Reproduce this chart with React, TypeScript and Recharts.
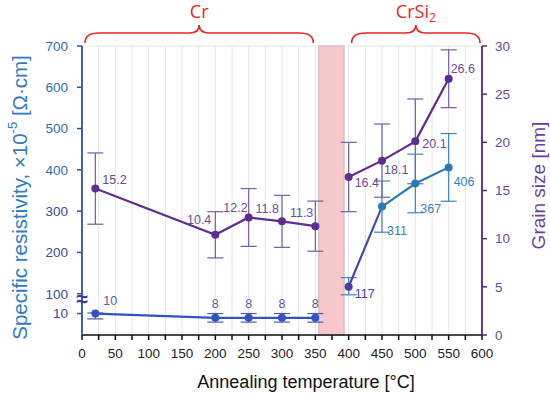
import React from 'react';
import {
  ComposedChart,
  Line,
  XAxis,
  YAxis,
  CartesianGrid,
  ErrorBar,
  LabelList,
  ReferenceArea,
  ReferenceDot,
  Label,
} from 'recharts';

// ---------------- data ----------------
const temperatures = [20, 200, 250, 300, 350, 400, 450, 500, 550];
const phases = ['Cr', 'Cr', 'Cr', 'Cr', 'Cr', 'CrSi2', 'CrSi2', 'CrSi2', 'CrSi2'];
const resistivity = [10, 8, 8, 8, 8, 117, 311, 367, 406];
const resistivityErr = [2.5, 2, 2, 2, 2, 22, 62, 71, 82];
const grainSize = [15.2, 10.4, 12.2, 11.8, 11.3, 16.4, 18.1, 20.1, 26.6];
const grainErr = [3.7, 2.4, 3.0, 2.7, 2.6, 3.6, 3.8, 4.4, 3.0];

const xTicks = Array.from({ length: 25 }, (_, i) => i * 25);
const resistivityTicks = [10, 100, 200, 300, 400, 500, 600, 700];
const grainTicks = [0, 5, 10, 15, 20, 25, 30];
const phaseRanges = [
  { label: 'Cr', from: 0, to: 350 },
  { label: 'CrSi2', from: 400, to: 600 },
];
const transitionBand = [355, 393];
const axisBreakAt = 80;

// broken resistivity axis: 0-10 and 10-100 compressed, linear above 100
const brokenScale = (v: number) =>
  v >= 100 ? v : v <= 10 ? v * 5.2 : 52 + ((v - 10) * 48) / 90;

const rows = temperatures.map((t, i) => {
  const isCr = phases[i] === 'Cr';
  const r = resistivity[i];
  const e = resistivityErr[i];
  const rt = brokenScale(r);
  const rErr = [rt - brokenScale(r - e), brokenScale(r + e) - rt];
  return {
    t,
    resCr: isCr ? rt : null,
    resSi: isCr ? null : rt,
    resRawCr: isCr ? r : null,
    resRawSi: isCr ? null : r,
    resErrCr: isCr ? rErr : null,
    resErrSi: isCr ? null : rErr,
    grainCr: isCr ? grainSize[i] : null,
    grainSi: isCr ? null : grainSize[i],
    grainErrCr: isCr ? grainErr[i] : null,
    grainErrSi: isCr ? null : grainErr[i],
  };
});

// ---------------- styling ----------------
const FONT = '"Liberation Sans", Arial, sans-serif';
const PURPLE = '#5e2d91';
const PURPLE_TXT = '#6b4c9a';
const BLUE_CR = '#3353c4';
const BLUE_SI = '#2a7ab8';
const RED = '#e5262d';

const grainLabelPos: Record<number, [number, number, string]> = {
  20: [7, -5, 'start'],
  200: [-4, -11, 'end'],
  250: [-1, -5, 'end'],
  300: [-3, -8, 'end'],
  350: [-2, -9, 'end'],
  400: [6, 10, 'start'],
  450: [2, 13, 'start'],
  500: [7, 7, 'start'],
  550: [2, -6, 'start'],
};
const resLabelPos: Record<number, [number, number, string]> = {
  20: [8, -9, 'start'],
  200: [0, -10, 'middle'],
  250: [0, -10, 'middle'],
  300: [0, -10, 'middle'],
  350: [0, -10, 'middle'],
  400: [6, 11, 'start'],
  450: [5, 28, 'start'],
  500: [5, 30, 'start'],
  550: [5, 19, 'start'],
};

const makeLabel =
  (pos: Record<number, [number, number, string]>, color: (t: number) => string) =>
  (props: any) => {
    const { value, index } = props;
    if (value === null || value === undefined) return null;
    const vb = props.viewBox || {};
    const x = props.x ?? vb.x;
    const y = props.y ?? vb.y;
    if (x == null || y == null) return null;
    const t = rows[index]?.t;
    const p = pos[t] || [5, -8, 'start'];
    return (
      <text
        x={x + p[0]}
        y={y + p[1]}
        textAnchor={p[2] as any}
        fontSize={12.5}
        fontFamily={FONT}
        fill={color(t)}
      >
        {String(value)}
      </text>
    );
  };

const LeftTick = (props: any) => {
  const { x, y, payload } = props;
  const raw = resistivityTicks.find((r) => Math.abs(brokenScale(r) - payload.value) < 1e-6);
  const color = raw !== undefined && raw >= 400 ? '#2c6fb0' : '#3c4aa0';
  return (
    <text x={x} y={y} dy="0.36em" textAnchor="end" fontSize={13.5} fontFamily={FONT} fill={color}>
      {raw === undefined ? '' : String(raw)}
    </text>
  );
};

const BraceShape = (label: string) => (props: any) => {
  const { x, y, width } = props;
  const x0 = x + 3;
  const x1 = x + width - 2;
  const xm = (x0 + x1) / 2;
  const yb = y - 3;
  const ym = y - 13;
  const yt = y - 21;
  const d = `M ${x0} ${yb} Q ${x0} ${ym} ${x0 + 14} ${ym} L ${xm - 10} ${ym} Q ${xm} ${ym} ${xm} ${yt} Q ${xm} ${ym} ${xm + 10} ${ym} L ${x1 - 14} ${ym} Q ${x1} ${ym} ${x1} ${yb}`;
  return (
    <g>
      <path d={d} fill="none" stroke={RED} strokeWidth={1.6} />
      <text
        x={xm}
        y={y - 28}
        textAnchor="middle"
        fontSize={18}
        fontFamily='"Open Sans", "Noto Sans", sans-serif'
        fill={RED}
      >
        {label === 'CrSi2' ? (
          <>
            CrSi
            <tspan fontSize={12} dy={4}>
              2
            </tspan>
          </>
        ) : (
          label
        )}
      </text>
    </g>
  );
};

const BreakMark = (p: any) => {
  if (p.cx == null || p.cy == null) return <g />;
  return (
    <text
      x={p.cx}
      y={p.cy}
      dy="0.36em"
      textAnchor="middle"
      fontSize={21}
      fontWeight="bold"
      fontFamily={FONT}
      fill="#3a3aa0"
    >
      ≈
    </text>
  );
};

const SiDot = (p: any) => {
  if (p.cx == null || p.cy == null || p.value == null) return <g key={p.key || p.index} />;
  return (
    <circle
      key={p.key || p.index}
      cx={p.cx}
      cy={p.cy}
      r={4}
      fill={p.index === 5 ? '#4b3aa8' : BLUE_SI}
      stroke="none"
    />
  );
};

export default function App() {
  const gridTicks = Array.from({ length: 22 }, (_, i) => (i * 100) / 3);
  return (
    <div style={{ position: 'absolute', left: 0, top: 0, width: 550, height: 394, background: '#fff' }}>
      <ComposedChart
        width={550}
        height={394}
        data={rows}
        margin={{ top: 46, right: 0, bottom: 0, left: 0 }}
      >
        <defs>
          <linearGradient id="resSiGrad" x1="0" y1="0" x2="1" y2="0">
            <stop offset="0" stopColor="#4b3aa8" />
            <stop offset="0.3" stopColor="#3d52b2" />
            <stop offset="0.45" stopColor={BLUE_SI} />
            <stop offset="1" stopColor={BLUE_SI} />
          </linearGradient>
        </defs>
        <CartesianGrid stroke="#e6e6e6" xAxisId="x" yAxisId="gridY" />
        <XAxis
          xAxisId="x"
          dataKey="t"
          type="number"
          domain={[0, 600]}
          ticks={xTicks}
          interval={0}
          height={59}
          tickSize={5}
          tickMargin={8}
          tickFormatter={(v: number) => (v % 50 === 0 ? String(v) : '')}
          tick={{ fill: '#222', fontSize: 13.5, fontFamily: FONT }}
          axisLine={{ stroke: '#111', strokeWidth: 1.5 }}
          tickLine={{ stroke: '#111', strokeWidth: 1.5 }}
        >
          <Label
            content={(p: any) => {
              const vb = p.viewBox;
              return (
                <text
                  x={vb.x + vb.width / 2 + 24}
                  y={vb.y + vb.height - 6}
                  textAnchor="middle"
                  fontSize={18}
                  fontFamily={FONT}
                  fill="#111"
                >
                  Annealing temperature [°C]
                </text>
              );
            }}
          />
        </XAxis>
        <YAxis
          yAxisId="left"
          type="number"
          domain={[0, 700]}
          ticks={resistivityTicks.map(brokenScale)}
          interval={0}
          width={82}
          tickSize={5}
          tickMargin={9}
          tick={<LeftTick />}
          axisLine={{ stroke: '#2b55a8', strokeWidth: 1.8 }}
          tickLine={{ stroke: '#2b55a8', strokeWidth: 1.5 }}
        >
          <Label
            content={(p: any) => {
              const vb = p.viewBox;
              const cy = vb.y + vb.height / 2 + 7;
              return (
                <text
                  x={19}
                  y={cy}
                  transform={`rotate(-90, 19, ${cy})`}
                  textAnchor="middle"
                  dominantBaseline="central"
                  fontSize={20.5}
                  fontFamily={FONT}
                  fill="#2f7cc0"
                >
                  Specific resistivity, ×10
                  <tspan fontSize={13} dy={-7}>
                    -5
                  </tspan>
                  <tspan dy={7}> [Ω·cm]</tspan>
                </text>
              );
            }}
          />
        </YAxis>
        <YAxis
          yAxisId="right"
          orientation="right"
          type="number"
          domain={[0, 30]}
          ticks={grainTicks}
          interval={0}
          width={68}
          tickSize={5}
          tickMargin={8}
          tick={{ fill: PURPLE_TXT, fontSize: 13.5, fontFamily: FONT }}
          axisLine={{ stroke: '#4e2a86', strokeWidth: 1.8 }}
          tickLine={{ stroke: '#4e2a86', strokeWidth: 1.5 }}
        >
          <Label
            content={(p: any) => {
              const vb = p.viewBox;
              const cy = vb.y + vb.height / 2 - 5;
              return (
                <text
                  x={538}
                  y={cy}
                  transform={`rotate(-90, 538, ${cy})`}
                  textAnchor="middle"
                  dominantBaseline="central"
                  fontSize={19}
                  fontFamily={FONT}
                  fill="#6b3fa0"
                >
                  Grain size [nm]
                </text>
              );
            }}
          />
        </YAxis>
        <YAxis
          yAxisId="gridY"
          orientation="right"
          hide
          width={0}
          domain={[0, 700]}
          ticks={gridTicks}
          type="number"
        />

        <ReferenceArea
          xAxisId="x"
          yAxisId="left"
          x1={transitionBand[0]}
          x2={transitionBand[1]}
          y1={0}
          y2={700}
          fill="#f6c3c5"
          fillOpacity={0.9}
          stroke="#d6c2c2"
          strokeWidth={1.5}
        />
        {phaseRanges.map((r) => (
          <ReferenceArea
            key={r.label}
            xAxisId="x"
            yAxisId="left"
            x1={r.from}
            x2={r.to}
            y1={690}
            y2={700}
            shape={BraceShape(r.label)}
          />
        ))}
        <ReferenceDot
          xAxisId="x"
          yAxisId="left"
          x={0}
          y={brokenScale(axisBreakAt)}
          ifOverflow="visible"
          shape={BreakMark}
        />

        {/* grain size */}
        <Line
          xAxisId="x"
          yAxisId="right"
          dataKey="grainCr"
          stroke={PURPLE}
          strokeWidth={2.2}
          dot={{ r: 4, fill: PURPLE, stroke: 'none' }}
          isAnimationActive={false}
        >
          <ErrorBar dataKey="grainErrCr" width={8} stroke="#7a5aa8" strokeWidth={1.2} direction="y" />
          <LabelList dataKey="grainCr" content={makeLabel(grainLabelPos, () => PURPLE_TXT)} />
        </Line>
        <Line
          xAxisId="x"
          yAxisId="right"
          dataKey="grainSi"
          stroke={PURPLE}
          strokeWidth={2.2}
          dot={{ r: 4, fill: PURPLE, stroke: 'none' }}
          isAnimationActive={false}
        >
          <ErrorBar dataKey="grainErrSi" width={8} stroke="#7a5aa8" strokeWidth={1.2} direction="y" />
          <LabelList dataKey="grainSi" content={makeLabel(grainLabelPos, () => PURPLE_TXT)} />
        </Line>

        {/* resistivity */}
        <Line
          xAxisId="x"
          yAxisId="left"
          dataKey="resCr"
          stroke={BLUE_CR}
          strokeWidth={2.2}
          dot={{ r: 4, fill: BLUE_CR, stroke: 'none' }}
          isAnimationActive={false}
        >
          <ErrorBar dataKey="resErrCr" width={8} stroke="#4a5ab8" strokeWidth={1.2} direction="y" />
          <LabelList dataKey="resRawCr" content={makeLabel(resLabelPos, () => '#5a5aaa')} />
        </Line>
        <Line
          xAxisId="x"
          yAxisId="left"
          dataKey="resSi"
          stroke="url(#resSiGrad)"
          strokeWidth={2.2}
          dot={SiDot}
          isAnimationActive={false}
        >
          <ErrorBar dataKey="resErrSi" width={8} stroke="#3f84bd" strokeWidth={1.2} direction="y" />
          <LabelList
            dataKey="resRawSi"
            content={makeLabel(resLabelPos, (t) => (t === 400 ? '#4b3aa8' : '#3a80b8'))}
          />
        </Line>
      </ComposedChart>
    </div>
  );
}
